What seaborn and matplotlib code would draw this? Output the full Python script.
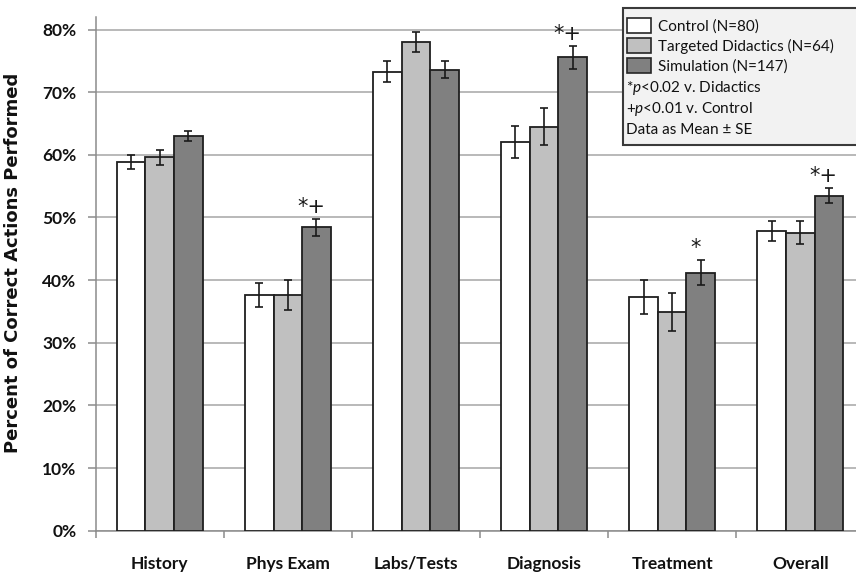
import matplotlib
matplotlib.use("Agg")
import matplotlib.pyplot as plt
import seaborn as sns
import pandas as pd
import numpy as np
from matplotlib.patches import Rectangle, Patch
from matplotlib.ticker import FixedLocator, PercentFormatter

categories = ["History", "Phys Exam", "Labs/Tests", "Diagnosis", "Treatment", "Overall"]
groups = ["Control (N=80)", "Targeted Didactics (N=64)", "Simulation (N=147)"]
control = [58.9, 37.6, 73.3, 62.0, 37.3, 47.9]
didactics = [59.6, 37.6, 78.0, 64.5, 34.9, 47.6]
simulation = [63.0, 48.4, 73.6, 75.6, 41.2, 53.5]
control_se = [1.1, 1.9, 1.75, 2.55, 2.7, 1.6]
didactics_se = [1.15, 2.45, 1.65, 3.0, 3.1, 1.85]
simulation_se = [0.75, 1.3, 1.3, 1.85, 2.0, 1.25]
sim_marks = ["", "*+", "", "*+", "*", "*+"]
notes = ["*$p$<0.02 v. Didactics", "+$p$<0.01 v. Control", "Data as Mean ± SE"]
colors = ["#ffffff", "#c0c0c0", "#808080"]

sns.set_theme(style="white")
plt.rcParams["font.family"] = ["Lato", "DejaVu Sans"]
plt.rcParams["mathtext.fontset"] = "custom"
plt.rcParams["mathtext.rm"] = "Lato"
plt.rcParams["mathtext.it"] = "Lato:italic"

df = pd.DataFrame({
    "category": categories * 3,
    "group": [groups[0]] * 6 + [groups[1]] * 6 + [groups[2]] * 6,
    "value": control + didactics + simulation,
})
errs = [control_se, didactics_se, simulation_se]

W, H = 856, 577
fig = plt.figure(figsize=(W / 100, H / 100), dpi=100)
ax_left, ax_right, ax_bottom, ax_top = 95.7, 856, 530.7, 17
ax = fig.add_axes([ax_left / W, 1 - ax_bottom / H, (ax_right - ax_left) / W, (ax_bottom - ax_top) / H])

sns.barplot(data=df, x="category", y="value", hue="group", hue_order=groups,
            order=categories, palette=colors, width=0.669, errorbar=None,
            edgecolor="#1f1f1f", linewidth=1.3, legend=False, ax=ax, zorder=3)

bar_containers = list(ax.containers)
for ci, cont in enumerate(bar_containers):
    xs = [b.get_x() + b.get_width() / 2 for b in cont]
    ys = [b.get_height() for b in cont]
    ax.errorbar(xs, ys, yerr=errs[ci], fmt="none", ecolor="#1a1a1a",
                elinewidth=1.2, capsize=3, capthick=1.2, zorder=4)
    if ci == 2:
        for x, y, e, m in zip(xs, ys, errs[ci], sim_marks):
            if m:
                ax.text(x - 0.04, y + e + 0.3, m, ha="center", va="bottom",
                        fontsize=15, color="#1a1a1a", family="DejaVu Sans", zorder=5)

ax.set_ylim(0, 82)
ax.set_xlim(-0.5, (ax_right - ax_left) / ((ax_right - ax_left + 8.3) / 6) - 0.5)
ax.set_yticks(np.arange(0, 81, 10))
ax.yaxis.set_major_formatter(PercentFormatter(decimals=0))
ax.yaxis.grid(True, color="#a6a6a6", linewidth=1.1, zorder=0)
ax.set_axisbelow(True)

ax.xaxis.set_major_locator(FixedLocator(np.arange(-0.5, 6.0, 1)))
ax.xaxis.set_minor_locator(FixedLocator(np.arange(0, 6)))
ax.set_xticklabels([""] * 7)
ax.set_xticklabels(categories, minor=True)
ax.tick_params(axis="x", which="major", length=5, width=1.1, color="#8c8c8c", direction="out", bottom=True)
ax.tick_params(axis="x", which="minor", length=0, pad=18, labelsize=12.5)
ax.tick_params(axis="y", length=6, width=1.1, color="#8c8c8c", direction="out", left=True, pad=8, labelsize=12.5)
for lab in ax.get_xticklabels(minor=True) + ax.get_yticklabels():
    lab.set_fontweight("bold")
    lab.set_color("#111111")

for s in ["top", "right"]:
    ax.spines[s].set_visible(False)
for s in ["left", "bottom"]:
    ax.spines[s].set_color("#8c8c8c")
    ax.spines[s].set_linewidth(1.1)

ax.set_xlabel("")
ax.set_ylabel("Percent of Correct Actions Performed", fontsize=13, fontweight="bold",
              family="DejaVu Sans", color="#111111")
ax.yaxis.set_label_coords((22 - ax_left) / (ax_right - ax_left), 0.522)

# legend box
bx0, by0, bx1, by1 = 623, 8, 860, 145
fig.patches.append(Rectangle((bx0 / W, 1 - by1 / H), (bx1 - bx0) / W, (by1 - by0) / H,
                             transform=fig.transFigure, facecolor="#f2f2f2",
                             edgecolor="#3a3a3a", linewidth=1.5, zorder=10))
handles = [Patch(facecolor=c, edgecolor="#262626", linewidth=1.2) for c in colors]
leg = fig.legend(handles, groups, loc="upper left", bbox_to_anchor=(624 / W, 1 - 15 / H),
                 frameon=False, fontsize=11, handlelength=1.55, handleheight=1.15,
                 handletextpad=0.45, labelspacing=0.28, borderpad=0.2, borderaxespad=0)
leg.set_zorder(11)
for t in leg.get_texts():
    t.set_color("#111111")
for i, n in enumerate(notes):
    fig.text(626 / W, 1 - (88 + 21 * i) / H, n, fontsize=11, color="#111111",
             ha="left", va="center", zorder=12)

fig.savefig("out.png", dpi=100)
